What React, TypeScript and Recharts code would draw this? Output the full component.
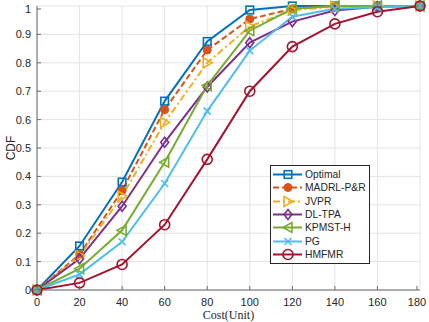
import { LineChart, Line, XAxis, YAxis, CartesianGrid } from "recharts";

const costs = [0, 20, 40, 60, 80, 100, 120, 140, 160, 180];
const optimal = [0, 0.155, 0.38, 0.665, 0.875, 0.986, 1, 1, 1, 1];
const madrl = [0, 0.125, 0.35, 0.635, 0.845, 0.954, 0.99, 1, 1, 1];
const jvpr = [0, 0.12, 0.33, 0.59, 0.8, 0.928, 0.985, 0.998, 1, 1];
const dltpa = [0, 0.11, 0.295, 0.52, 0.715, 0.871, 0.945, 0.984, 0.997, 1];
const kpmst = [0, 0.075, 0.21, 0.45, 0.72, 0.913, 0.99, 1, 1, 1];
const pg = [0, 0.055, 0.17, 0.375, 0.63, 0.843, 0.962, 0.99, 0.996, 1];
const hmfmr = [0, 0.025, 0.09, 0.23, 0.46, 0.7, 0.857, 0.937, 0.98, 1];

const xTicks = [0, 20, 40, 60, 80, 100, 120, 140, 160, 180];
const yTicks = [0, 0.1, 0.2, 0.3, 0.4, 0.5, 0.6, 0.7, 0.8, 0.9, 1];

const series = [
  { key: "optimal", name: "Optimal", color: "#0072BD", marker: "square", dash: undefined },
  { key: "madrl", name: "MADRL-P&R", color: "#D95319", marker: "dot", dash: "6 3" },
  { key: "jvpr", name: "JVPR", color: "#EDB120", marker: "right", dash: "7 3 2 3" },
  { key: "dltpa", name: "DL-TPA", color: "#7E2F8E", marker: "diamond", dash: undefined },
  { key: "kpmst", name: "KPMST-H", color: "#77AC30", marker: "left", dash: undefined },
  { key: "pg", name: "PG", color: "#4DBEEE", marker: "x", dash: undefined },
  { key: "hmfmr", name: "HMFMR", color: "#A2142F", marker: "circle", dash: undefined },
];

const data = costs.map((c, i) => ({
  cost: c,
  optimal: optimal[i],
  madrl: madrl[i],
  jvpr: jvpr[i],
  dltpa: dltpa[i],
  kpmst: kpmst[i],
  pg: pg[i],
  hmfmr: hmfmr[i],
}));

const AXIS = "#6b6b6b";
const TEXT = "#262626";
const FONT = "'Liberation Sans', Arial, sans-serif";

function Marker({ shape, cx, cy, color }: { shape: string; cx: number; cy: number; color: string }) {
  const common = { stroke: color, strokeWidth: 1.6, fill: "none" };
  switch (shape) {
    case "square":
      return <rect x={cx - 3.8} y={cy - 3.8} width={7.6} height={7.6} {...common} />;
    case "dot":
      return <circle cx={cx} cy={cy} r={4} fill={color} stroke={color} />;
    case "right":
      return <polygon points={`${cx - 4},${cy - 5} ${cx + 5},${cy} ${cx - 4},${cy + 5}`} {...common} />;
    case "left":
      return <polygon points={`${cx + 4},${cy - 5} ${cx - 5},${cy} ${cx + 4},${cy + 5}`} {...common} />;
    case "diamond":
      return <polygon points={`${cx},${cy - 5} ${cx + 4},${cy} ${cx},${cy + 5} ${cx - 4},${cy}`} {...common} />;
    case "x":
      return (
        <g {...common}>
          <line x1={cx - 3.5} y1={cy - 3.5} x2={cx + 3.5} y2={cy + 3.5} />
          <line x1={cx - 3.5} y1={cy + 3.5} x2={cx + 3.5} y2={cy - 3.5} />
        </g>
      );
    default:
      return <circle cx={cx} cy={cy} r={5} {...common} />;
  }
}

// tickSize 0 so the tick line is drawn by hand, pointing inwards
function BottomTick(props: any) {
  const { x, y, payload } = props;
  const axisY = y - 12;
  return (
    <g>
      <line x1={x} x2={x} y1={axisY} y2={axisY - 4} stroke={AXIS} />
      <text x={x} y={y} dy={4} textAnchor="middle" fontSize={11} fontFamily={FONT} fill={TEXT}>
        {payload.value}
      </text>
    </g>
  );
}

function LeftTick(props: any) {
  const { x, y, payload } = props;
  const axisX = x + 6;
  return (
    <g>
      <line x1={axisX} x2={axisX + 4} y1={y} y2={y} stroke={AXIS} />
      <text x={x} y={y} dy={4} textAnchor="end" fontSize={11} fontFamily={FONT} fill={TEXT}>
        {payload.value}
      </text>
    </g>
  );
}

function TopTick(props: any) {
  const { x, y } = props;
  return <line x1={x} x2={x} y1={y} y2={y + 4} stroke={AXIS} />;
}

function RightTick(props: any) {
  const { x, y } = props;
  return <line x1={x} x2={x - 4} y1={y} y2={y} stroke={AXIS} />;
}

function CdfLabel(props: any) {
  const { viewBox } = props;
  const cx = viewBox.x + 11;
  const cy = viewBox.y + viewBox.height / 2;
  return (
    <text x={cx} y={cy} transform={`rotate(-90 ${cx} ${cy})`} textAnchor="middle" dy={4}
      fontSize={12} fontFamily={FONT} fill={TEXT}>
      CDF
    </text>
  );
}

export default function App() {
  return (
    <div style={{ position: "relative", width: 429, height: 322, background: "#fff" }}>
      <style>{`body{margin:0}`}</style>
      <LineChart width={429} height={322} data={data} margin={{ top: 6, right: 9, bottom: 0, left: 0 }}>
        <CartesianGrid stroke="#e3e3e3" strokeWidth={1} vertical horizontal />
        <XAxis
          dataKey="cost"
          type="number"
          domain={[0, 180]}
          ticks={xTicks}
          height={32}
          tickSize={0}
          tickMargin={12}
          tick={<BottomTick />}
          axisLine={{ stroke: AXIS }}
          label={{ value: "Cost(Unit)", position: "insideBottom", offset: 3, fontSize: 12, fontFamily: "'Liberation Serif', 'Times New Roman', serif", fill: TEXT }}
        />
        <XAxis
          xAxisId="top"
          orientation="top"
          dataKey="cost"
          type="number"
          domain={[0, 180]}
          ticks={xTicks}
          height={0}
          tickSize={0}
          tickMargin={0}
          tick={<TopTick />}
          axisLine={{ stroke: AXIS }}
        />
        <YAxis
          type="number"
          domain={[0, 1]}
          ticks={yTicks}
          width={37}
          tickSize={0}
          tickMargin={6}
          tick={<LeftTick />}
          axisLine={{ stroke: AXIS }}
          label={<CdfLabel />}
        />
        <YAxis
          yAxisId="right"
          orientation="right"
          type="number"
          domain={[0, 1]}
          ticks={yTicks}
          width={0}
          tickSize={0}
          tickMargin={0}
          tick={<RightTick />}
          axisLine={{ stroke: AXIS }}
        />
        {series.map((s) => (
          <Line
            key={s.key}
            dataKey={s.key}
            name={s.name}
            type="linear"
            stroke={s.color}
            strokeWidth={2}
            strokeDasharray={s.dash}
            isAnimationActive={false}
            dot={(p: any) => (
              <Marker key={`${s.key}-${p.index}`} shape={s.marker} cx={p.cx} cy={p.cy} color={s.color} />
            )}
            activeDot={false}
          />
        ))}
      </LineChart>
      <div
        style={{
          position: "absolute",
          left: 270,
          top: 165,
          width: 98,
          height: 95,
          border: `1px solid ${TEXT}`,
          background: "#fff",
          boxSizing: "content-box",
          paddingTop: 2,
        }}
      >
        {series.map((s) => (
          <div key={s.key} style={{ display: "flex", alignItems: "center", height: 13.3, whiteSpace: "nowrap" }}>
            <svg width={34} height={13} style={{ display: "block", flexShrink: 0 }}>
              <line x1={2} x2={31} y1={6.5} y2={6.5} stroke={s.color} strokeWidth={2} strokeDasharray={s.dash} />
              <Marker shape={s.marker} cx={17} cy={6.5} color={s.color} />
            </svg>
            <span style={{ fontFamily: FONT, fontSize: 10.3, color: TEXT, lineHeight: "13px", whiteSpace: "nowrap" }}>
              {s.name}
            </span>
          </div>
        ))}
      </div>
    </div>
  );
}
